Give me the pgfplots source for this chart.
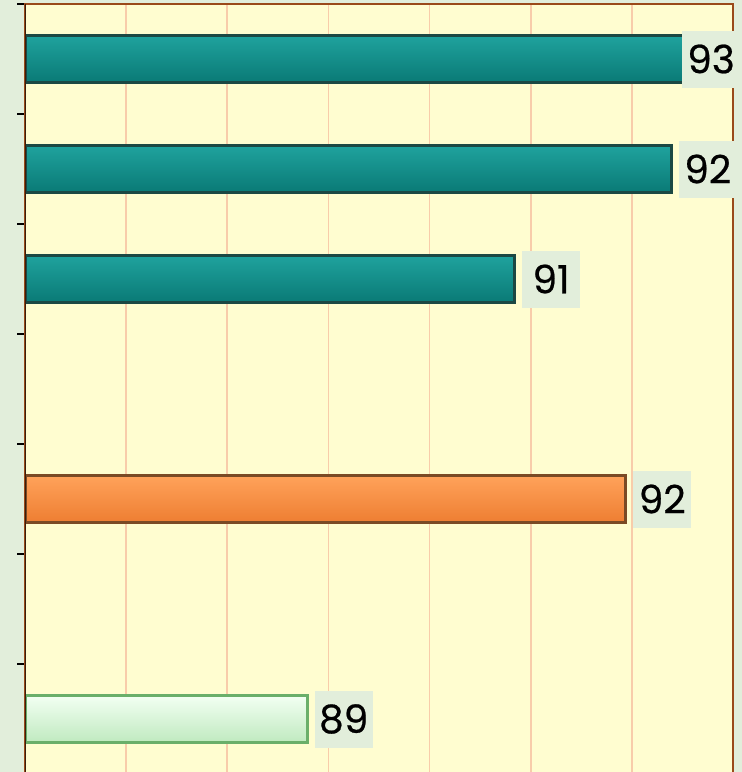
\documentclass[border=0pt]{standalone}
\usepackage{pgfplots}
\pgfplotsset{compat=1.18}
\usepackage{fontspec}
\newfontfamily\labelfont[FakeBold=0.6]{Poppins}
\definecolor{outerbg}{HTML}{E2EEDB}
\definecolor{plotbg}{HTML}{FFFDD0}
\definecolor{gridc}{HTML}{F8CCAA}
\definecolor{borderbrown}{HTML}{9A4A1A}
\definecolor{leftdark}{HTML}{3A1E0C}
\definecolor{tealedge}{HTML}{1C4843}
\definecolor{tealtop}{HTML}{1FA29D}
\definecolor{tealmid}{HTML}{0A8A86}
\definecolor{tealbot}{HTML}{0A7A76}
\definecolor{orgedge}{HTML}{7A4A25}
\definecolor{orgtop}{HTML}{FFA25A}
\definecolor{orgmid}{HTML}{FF8A3A}
\definecolor{orgbot}{HTML}{EE7E32}
\definecolor{grnedge}{HTML}{6AAF6A}
\definecolor{grntop}{HTML}{F2FFF2}
\definecolor{grnmid}{HTML}{D2F9D2}
\definecolor{grnbot}{HTML}{C0EAC0}
\begin{document}
\begin{tikzpicture}
\fill[outerbg] (0,0) rectangle (371pt,386pt);
\begin{axis}[
  at={(12.5pt,-1pt)}, anchor=south west,
  width=354pt, height=385pt, scale only axis,
  xmin=86, xmax=93, ymin=-0.5, ymax=6.5,
  xtick={86,87,...,93}, xticklabels={},
  xtick style={draw=none},
  xmajorgrids, grid style={gridc, line width=0.8pt},
  ytick={-0.5,0.5,...,6.5}, yticklabels={},
  ytick pos=left,
  ytick style={black, line width=0.8pt},
  tick align=outside, major tick length=4pt,
  axis line style={borderbrown, line width=1pt},
  axis background/.style={fill=plotbg},
  bar width=0.42,
  point meta=x,
  /pgf/number format/assume math mode=true,
  nodes near coords={\pgfmathprintnumber[fixed,precision=0,assume math mode=true]{\pgfplotspointmeta}},
  every node near coord/.append style={fill=outerbg, anchor=west, xshift=3pt,
    minimum width=29pt, minimum height=28.5pt, inner sep=0pt, text=black,
    font=\labelfont\fontsize{19.5}{19.5}\selectfont},
]
\addplot[xbar, bar shift=0pt, draw=tealedge, line width=1.5pt, top color=tealtop, middle color=tealmid, bottom color=tealbot,
  every node near coord/.append style={xshift=-9pt}]
  coordinates {(92.6,6)};
\addplot[xbar, bar shift=0pt, draw=tealedge, line width=1.5pt, top color=tealtop, middle color=tealmid, bottom color=tealbot]
  coordinates {(92.39,5)};
\addplot[xbar, bar shift=0pt, draw=tealedge, line width=1.5pt, top color=tealtop, middle color=tealmid, bottom color=tealbot]
  coordinates {(90.84,4)};
\addplot[xbar, bar shift=0pt, draw=orgedge, line width=1.5pt, top color=orgtop, middle color=orgmid, bottom color=orgbot]
  coordinates {(91.94,2)};
\addplot[xbar, bar shift=0pt, draw=grnedge, line width=1.5pt, top color=grntop, middle color=grnmid, bottom color=grnbot]
  coordinates {(88.79,0)};
\draw[leftdark, line width=1.2pt] (rel axis cs:0,0) -- (rel axis cs:0,1);
\end{axis}
\pgfresetboundingbox
\path (0,0) rectangle (371pt,386pt);
\end{tikzpicture}
\end{document}
